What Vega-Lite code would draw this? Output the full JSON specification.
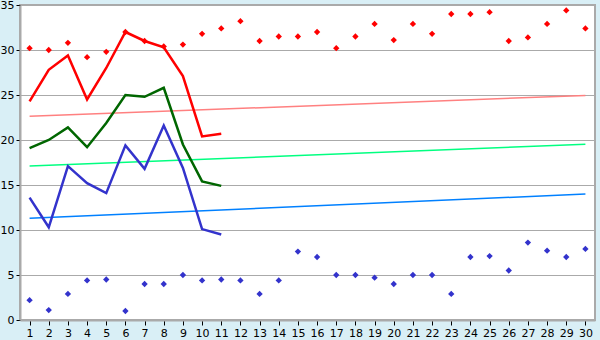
{
  "$schema": "https://vega.github.io/schema/vega-lite/v6.json",
  "autosize": "none",
  "width": 575,
  "height": 315,
  "padding": {"left": 20, "top": 5, "right": 5, "bottom": 20},
  "background": "#d9eff6",
  "config": {
    "view": {"fill": "white", "stroke": "#aaaaaa", "strokeWidth": 2},
    "axis": {"labelFont": "DejaVu Sans", "labelFontSize": 11, "labelColor": "black", "title": null}
  },
  "datasets": {
    "lines": [
      {"day": 1, "value": 24.3, "series": "a"}, {"day": 2, "value": 27.8, "series": "a"}, {"day": 3, "value": 29.4, "series": "a"}, {"day": 4, "value": 24.5, "series": "a"}, {"day": 5, "value": 28.0, "series": "a"}, {"day": 6, "value": 32.0, "series": "a"}, {"day": 7, "value": 31.0, "series": "a"}, {"day": 8, "value": 30.3, "series": "a"}, {"day": 9, "value": 27.1, "series": "a"}, {"day": 10, "value": 20.4, "series": "a"}, {"day": 11, "value": 20.7, "series": "a"},
      {"day": 1, "value": 19.1, "series": "b"}, {"day": 2, "value": 20.0, "series": "b"}, {"day": 3, "value": 21.4, "series": "b"}, {"day": 4, "value": 19.2, "series": "b"}, {"day": 5, "value": 21.9, "series": "b"}, {"day": 6, "value": 25.0, "series": "b"}, {"day": 7, "value": 24.8, "series": "b"}, {"day": 8, "value": 25.8, "series": "b"}, {"day": 9, "value": 19.5, "series": "b"}, {"day": 10, "value": 15.4, "series": "b"}, {"day": 11, "value": 14.9, "series": "b"},
      {"day": 1, "value": 13.6, "series": "c"}, {"day": 2, "value": 10.3, "series": "c"}, {"day": 3, "value": 17.1, "series": "c"}, {"day": 4, "value": 15.2, "series": "c"}, {"day": 5, "value": 14.1, "series": "c"}, {"day": 6, "value": 19.4, "series": "c"}, {"day": 7, "value": 16.8, "series": "c"}, {"day": 8, "value": 21.6, "series": "c"}, {"day": 9, "value": 16.9, "series": "c"}, {"day": 10, "value": 10.1, "series": "c"}, {"day": 11, "value": 9.5, "series": "c"}
    ],
    "trends": [
      {"day": 1, "value": 22.63, "series": "ta"}, {"day": 30, "value": 24.95, "series": "ta"},
      {"day": 1, "value": 17.11, "series": "tb"}, {"day": 30, "value": 19.52, "series": "tb"},
      {"day": 1, "value": 11.3, "series": "tc"}, {"day": 30, "value": 14.0, "series": "tc"}
    ],
    "points": [
      {"day": 1, "value": 30.2, "series": "max"}, {"day": 2, "value": 30.0, "series": "max"}, {"day": 3, "value": 30.8, "series": "max"}, {"day": 4, "value": 29.2, "series": "max"}, {"day": 5, "value": 29.8, "series": "max"}, {"day": 6, "value": 32.0, "series": "max"}, {"day": 7, "value": 31.0, "series": "max"}, {"day": 8, "value": 30.4, "series": "max"}, {"day": 9, "value": 30.6, "series": "max"}, {"day": 10, "value": 31.8, "series": "max"},
      {"day": 11, "value": 32.4, "series": "max"}, {"day": 12, "value": 33.2, "series": "max"}, {"day": 13, "value": 31.0, "series": "max"}, {"day": 14, "value": 31.5, "series": "max"}, {"day": 15, "value": 31.5, "series": "max"}, {"day": 16, "value": 32.0, "series": "max"}, {"day": 17, "value": 30.2, "series": "max"}, {"day": 18, "value": 31.5, "series": "max"}, {"day": 19, "value": 32.9, "series": "max"}, {"day": 20, "value": 31.1, "series": "max"},
      {"day": 21, "value": 32.9, "series": "max"}, {"day": 22, "value": 31.8, "series": "max"}, {"day": 23, "value": 34.0, "series": "max"}, {"day": 24, "value": 34.0, "series": "max"}, {"day": 25, "value": 34.2, "series": "max"}, {"day": 26, "value": 31.0, "series": "max"}, {"day": 27, "value": 31.4, "series": "max"}, {"day": 28, "value": 32.9, "series": "max"}, {"day": 29, "value": 34.4, "series": "max"}, {"day": 30, "value": 32.4, "series": "max"},
      {"day": 1, "value": 2.2, "series": "min"}, {"day": 2, "value": 1.1, "series": "min"}, {"day": 3, "value": 2.9, "series": "min"}, {"day": 4, "value": 4.4, "series": "min"}, {"day": 5, "value": 4.5, "series": "min"}, {"day": 6, "value": 1.0, "series": "min"}, {"day": 7, "value": 4.0, "series": "min"}, {"day": 8, "value": 4.0, "series": "min"}, {"day": 9, "value": 5.0, "series": "min"}, {"day": 10, "value": 4.4, "series": "min"},
      {"day": 11, "value": 4.5, "series": "min"}, {"day": 12, "value": 4.4, "series": "min"}, {"day": 13, "value": 2.9, "series": "min"}, {"day": 14, "value": 4.4, "series": "min"}, {"day": 15, "value": 7.6, "series": "min"}, {"day": 16, "value": 7.0, "series": "min"}, {"day": 17, "value": 5.0, "series": "min"}, {"day": 18, "value": 5.0, "series": "min"}, {"day": 19, "value": 4.7, "series": "min"}, {"day": 20, "value": 4.0, "series": "min"},
      {"day": 21, "value": 5.0, "series": "min"}, {"day": 22, "value": 5.0, "series": "min"}, {"day": 23, "value": 2.9, "series": "min"}, {"day": 24, "value": 7.0, "series": "min"}, {"day": 25, "value": 7.1, "series": "min"}, {"day": 26, "value": 5.5, "series": "min"}, {"day": 27, "value": 8.6, "series": "min"}, {"day": 28, "value": 7.7, "series": "min"}, {"day": 29, "value": 7.0, "series": "min"}, {"day": 30, "value": 7.9, "series": "min"}
    ]
  },
  "encoding": {
    "x": {
      "field": "day", "type": "quantitative",
      "scale": {"domain": [0.5, 30.5], "nice": false, "zero": false},
      "axis": {"values": [1,2,3,4,5,6,7,8,9,10,11,12,13,14,15,16,17,18,19,20,21,22,23,24,25,26,27,28,29,30], "grid": false, "domainColor": "#aaaaaa", "domainWidth": 2, "tickColor": "black", "tickSize": 5, "labelPadding": 2, "labelFlush": false}
    },
    "y": {
      "field": "value", "type": "quantitative",
      "scale": {"domain": [0, 35], "nice": false},
      "axis": {"values": [0,5,10,15,20,25,30,35], "grid": true, "gridColor": "#aaaaaa", "gridWidth": 1, "domainColor": "#aaaaaa", "domainWidth": 2, "tickColor": "black", "tickSize": 4, "labelPadding": 2, "labelFlush": false}
    }
  },
  "layer": [
    {
      "data": {"name": "trends"},
      "mark": {"type": "line", "strokeWidth": 1.5},
      "encoding": {
        "color": {"field": "series", "type": "nominal", "scale": {"domain": ["ta", "tb", "tc"], "range": ["#ff8080", "#00ff80", "#0080ff"]}, "legend": null}
      }
    },
    {
      "data": {"name": "lines"},
      "mark": {"type": "line", "strokeWidth": 2.5},
      "encoding": {
        "color": {"field": "series", "type": "nominal", "scale": {"domain": ["a", "b", "c"], "range": ["#ff0000", "#006600", "#3333cc"]}, "legend": null}
      }
    },
    {
      "data": {"name": "points"},
      "mark": {"type": "point", "shape": "diamond", "filled": true, "size": 40, "opacity": 1},
      "encoding": {
        "fill": {"field": "series", "type": "nominal", "scale": {"domain": ["max", "min"], "range": ["#ff0000", "#3333cc"]}, "legend": null}
      }
    }
  ],
  "resolve": {"scale": {"color": "independent"}}
}
